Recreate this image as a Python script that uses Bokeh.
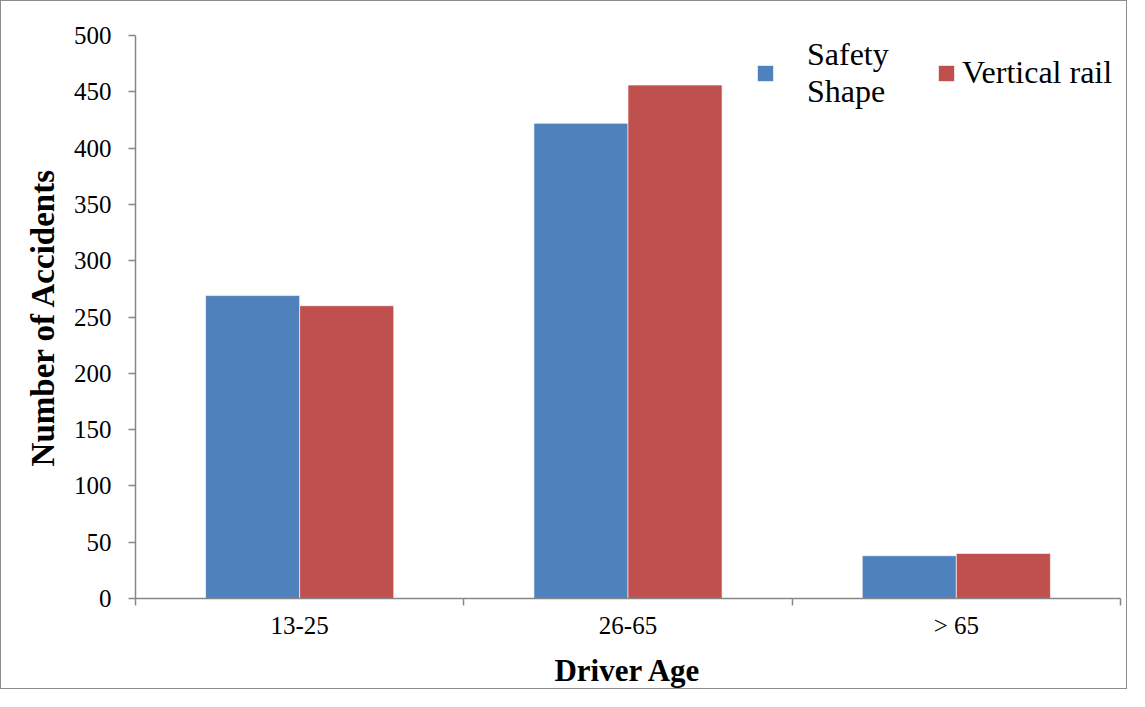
from bokeh.plotting import figure
from bokeh.models import Range1d, FixedTicker, Legend, LegendItem, ColumnDataSource
from bokeh.transform import dodge
from bokeh.embed import file_html
from bokeh.resources import INLINE

categories = ["13-25", "26-65", "> 65"]
safety_shape = [269, 422, 38]
vertical_rail = [260, 456, 40]
y_ticks = [0, 50, 100, 150, 200, 250, 300, 350, 400, 450, 500]

positions = list(range(len(categories)))
boundaries = [i - 0.5 for i in range(len(categories) + 1)]

src = ColumnDataSource(dict(x=positions, safety=safety_shape, vertical=vertical_rail))

AXIS = "#868686"
FONT = "Liberation Serif"

p = figure(width=1127, height=689,
           x_range=Range1d(-0.5, len(categories) - 0.5),
           y_range=Range1d(0, 500),
           output_backend="svg", toolbar_location=None,
           min_border_left=134, min_border_right=8,
           min_border_top=34, min_border_bottom=92,
           styles={"border": "1px solid #8c8c8c"})

bw = 0.2865
r1 = p.vbar(x=dodge('x', -bw / 2), top='safety', width=bw, source=src,
            fill_color="#4F81BD", line_color="white", line_alpha=0.6, line_width=1)
r2 = p.vbar(x=dodge('x', bw / 2), top='vertical', width=bw, source=src,
            fill_color="#C0504D", line_color="white", line_alpha=0.6, line_width=1)

p.xgrid.visible = False
p.ygrid.visible = False
p.outline_line_color = None

# Y axis
ya = p.yaxis[0]
ya.ticker = FixedTicker(ticks=y_ticks)
ya.axis_line_color = AXIS
ya.axis_line_width = 1.5
ya.major_tick_line_color = AXIS
ya.major_tick_line_width = 1.5
ya.major_tick_out = 7
ya.major_tick_in = 0
ya.minor_tick_line_color = None
ya.major_label_text_font = FONT
ya.major_label_text_font_size = "25px"
ya.major_label_text_color = "#000000"
ya.major_label_standoff = 17
ya.axis_label = "Number of Accidents"
ya.axis_label_text_font = FONT
ya.axis_label_text_font_size = "33px"
ya.axis_label_text_font_style = "bold"
ya.axis_label_text_color = "#000000"
ya.axis_label_standoff = 10

# X axis
xa = p.xaxis[0]
xa.ticker = FixedTicker(ticks=positions, minor_ticks=boundaries)
xa.major_label_overrides = {i: c for i, c in zip(positions, categories)}
xa.axis_line_color = AXIS
xa.axis_line_width = 1.5
xa.major_tick_line_color = None
xa.major_tick_out = 0
xa.major_tick_in = 0
xa.minor_tick_line_color = AXIS
xa.minor_tick_line_width = 1.5
xa.minor_tick_out = 7
xa.minor_tick_in = 0
xa.major_label_text_font = FONT
xa.major_label_text_font_size = "25px"
xa.major_label_text_color = "#000000"
xa.major_label_standoff = 6
xa.axis_label = "Driver Age"
xa.axis_label_text_font = FONT
xa.axis_label_text_font_size = "31px"
xa.axis_label_text_font_style = "bold"
xa.axis_label_text_color = "#000000"
xa.axis_label_standoff = 11

common = dict(orientation="horizontal", border_line_color=None, background_fill_alpha=0,
              label_text_font=FONT, label_text_font_size="32px",
              label_text_color="#000000", label_text_line_height=1.1,
              glyph_width=20, glyph_height=20, padding=0, margin=0, spacing=0)

legend1 = Legend(items=[LegendItem(label="Safety\nShape", renderers=[r1])],
                 location=(620, 488), label_standoff=32, **common)
legend2 = Legend(items=[LegendItem(label="Vertical rail", renderers=[r2])],
                 location=(801, 507), label_standoff=6, **common)
p.add_layout(legend1)
p.add_layout(legend2)

open("out.html", "w").write(file_html(p, INLINE))
